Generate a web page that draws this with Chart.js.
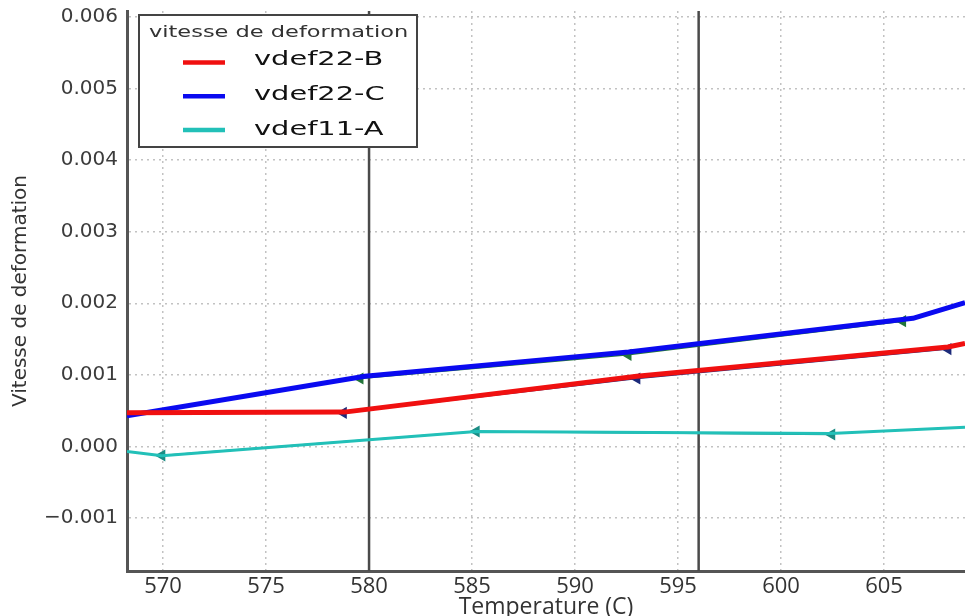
<!DOCTYPE html>
<html>
<head>
<meta charset="utf-8">
<script src="https://cdn.jsdelivr.net/npm/chart.js@4.4.1/dist/chart.umd.min.js"></script>
<style>
    html, body { margin: 0; padding: 0; overflow: hidden; background: #fff; }
    #wrap { width: 965px; height: 630px; position: relative; }
</style>
</head>
<body>
<div id="wrap"><canvas id="vitesseChart"></canvas></div>
<script>
// valeurs
const seriesNames = ['vdef22-B', 'vdef22-C', 'vdef11-A'];

const tempB = [568.25, 578.8, 593.0, 608.1, 608.93];
const vdefB = [0.00047, 0.00048, 0.00098, 0.00139, 0.00144];
const tempC = [568.25, 579.8, 592.6, 606.4, 608.93];
const vdefC = [0.00043, 0.00098, 0.00132, 0.00179, 0.00201];
const tempA = [568.25, 569.95, 585.2, 602.4, 608.93];
const vdefA = [-0.00007, -0.00013, 0.00021, 0.00018, 0.00027];

// points marqueurs (triangles) des courbes fines
const markTempB = [578.75, 593.0, 608.1];
const markVdefB = [0.00047, 0.00095, 0.00136];
const markTempC = [579.56, 592.57, 605.9];
const markVdefC = [0.00095, 0.00128, 0.00175];
const markTempA = [569.94, 585.2, 602.46];
const markVdefA = [-0.000126, 0.00021, 0.000168];

const xTicks = [570, 575, 580, 585, 590, 595, 600, 605];
const yTicks = [-0.001, 0, 0.001, 0.002, 0.003, 0.004, 0.005, 0.006];
const yTickLabels = ['\u22120.001', '0.000', '0.001', '0.002', '0.003', '0.004', '0.005', '0.006'];
const vLines = [580, 596];

function toPoints(xs, ys) {
    return xs.map((x, i) => ({ x: x, y: ys[i] }));
}

function thickLine(label, xs, ys, color, width) {
    return {
        label: label,
        data: toPoints(xs, ys),
        borderColor: color,
        backgroundColor: color,
        borderWidth: width,
        pointRadius: 0,
        tension: 0,
        borderJoinStyle: 'round',
        clip: 0
    };
}

function markerLine(xs, ys, color) {
    return {
        label: '',
        data: toPoints(xs, ys),
        borderColor: color,
        backgroundColor: color,
        borderWidth: 1.5,
        pointStyle: 'triangle',
        rotation: -90,
        pointRadius: 5.5,
        pointBackgroundColor: color,
        pointBorderColor: color,
        tension: 0,
        clip: 0
    };
}

function drawStretched(ctx, text, x, y, font, color, sx) {
    ctx.save();
    ctx.translate(x, y);
    ctx.scale(sx, 1);
    ctx.font = font;
    ctx.fillStyle = color;
    ctx.textAlign = 'left';
    ctx.textBaseline = 'alphabetic';
    ctx.fillText(text, 0, 0);
    ctx.restore();
}

// lignes verticales noires
const verticalLines = {
    id: 'verticalLines',
    beforeDatasetsDraw(chart) {
        const ctx = chart.ctx;
        const area = chart.chartArea;
        const xScale = chart.scales.x;
        ctx.save();
        ctx.strokeStyle = '#4a4a4a';
        ctx.lineWidth = 2.5;
        vLines.forEach(v => {
            const px = xScale.getPixelForValue(v);
            ctx.beginPath();
            ctx.moveTo(px, area.top);
            ctx.lineTo(px, area.bottom);
            ctx.stroke();
        });
        ctx.restore();
    }
};

// légende dans le cadre du graphique
const legendInside = {
    id: 'legendInside',
    afterDatasetsDraw(chart) {
        const ctx = chart.ctx;
        const area = chart.chartArea;
        const bx = area.left + 12, by = area.top + 4, bw = 278, bh = 132;
        ctx.save();
        ctx.fillStyle = '#fff';
        ctx.fillRect(bx, by, bw, bh);
        ctx.strokeStyle = '#444';
        ctx.lineWidth = 2;
        ctx.strokeRect(bx, by, bw, bh);
        drawStretched(ctx, 'vitesse de deformation', bx + 10, by + 21.5, "15.5px 'DejaVu Sans', sans-serif", '#333', 1.45);
        seriesNames.forEach((name, i) => {
            const ly = by + 47.5 + i * 33.75;
            ctx.strokeStyle = chart.data.datasets[i].borderColor;
            ctx.lineWidth = 4.5;
            ctx.beginPath();
            ctx.moveTo(bx + 44, ly);
            ctx.lineTo(bx + 86, ly);
            ctx.stroke();
            drawStretched(ctx, name, bx + 115, by + 50 + i * 35, "19.5px 'DejaVu Sans', sans-serif", '#111', 1.48);
        });
        ctx.restore();
    }
};

const ctx = document.getElementById('vitesseChart');

new Chart(ctx, {
    type: 'line',
    data: {
        datasets: [
            thickLine(seriesNames[0], tempB, vdefB, '#f01010', 5),
            thickLine(seriesNames[1], tempC, vdefC, '#0a0af0', 5),
            thickLine(seriesNames[2], tempA, vdefA, '#22c0b8', 3),
            markerLine(markTempB, markVdefB, '#1c2a7a'),
            markerLine(markTempC, markVdefC, '#23753a'),
            markerLine(markTempA, markVdefA, '#1b8c84')
        ]
    },
    options: {
        responsive: true,
        maintainAspectRatio: false,
        animation: false,
        layout: {
            padding: { top: 11, left: 0, right: 0, bottom: 0 },
            autoPadding: false
        },
        plugins: {
            legend: { display: false },
            tooltip: { enabled: false }
        },
        scales: {
            x: {
                type: 'linear',
                min: 568.25,
                max: 608.93,
                afterBuildTicks: s => { s.ticks = xTicks.map(v => ({ value: v })); },
                afterFit: s => { s.height = 59; s.paddingLeft = 0; s.paddingRight = 0; },
                grid: { color: '#c2c2c2', lineWidth: 1.5, drawTicks: false },
                border: { color: '#555', width: 3, dash: [2, 4] },
                ticks: {
                    font: { family: "'Open Sans', sans-serif", size: 22 },
                    color: '#333',
                    padding: 3,
                    maxRotation: 0,
                    autoSkip: false,
                    callback: (v, i) => String(xTicks[i])
                },
                title: {
                    display: true,
                    text: 'Temperature (C)',
                    font: { family: "'Open Sans', sans-serif", size: 23 },
                    color: '#333',
                    padding: { top: 0, bottom: 9 }
                }
            },
            y: {
                type: 'linear',
                min: -0.001739,
                max: 0.006082,
                afterBuildTicks: s => { s.ticks = yTicks.map(v => ({ value: v })); },
                afterFit: s => { s.width = 127; s.paddingTop = 0; s.paddingBottom = 0; },
                grid: { color: '#c2c2c2', lineWidth: 1.5, drawTicks: false },
                border: { color: '#555', width: 3, dash: [2, 4] },
                ticks: {
                    font: { family: "'DejaVu Sans', sans-serif", size: 20 },
                    color: '#3c3c3c',
                    padding: 9,
                    autoSkip: false,
                    callback: (v, i) => yTickLabels[i]
                },
                title: {
                    display: true,
                    text: 'Vitesse de deformation',
                    font: { family: "'DejaVu Sans', sans-serif", size: 20 },
                    color: '#333',
                    padding: { top: 9, bottom: 0 }
                }
            }
        }
    },
    plugins: [verticalLines, legendInside]
});
</script>
</body>
</html>
